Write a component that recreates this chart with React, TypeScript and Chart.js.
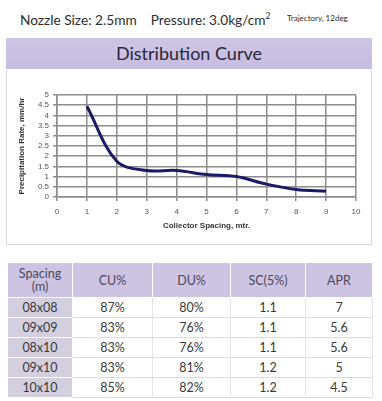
import React, { useEffect, useRef } from "react";
import { Chart, registerables } from "chart.js";

Chart.register(...registerables);

const spacingX = [1, 2, 3, 4, 5, 6, 7, 8, 9];
const precipRate = [4.45, 1.75, 1.3, 1.3, 1.1, 1.0, 0.63, 0.37, 0.28];

const tableHeaders = ["Spacing\n(m)", "CU%", "DU%", "SC(5%)", "APR"];
const spacings = ["08x08", "09x09", "08x10", "09x10", "10x10"];
const cuValues = ["87%", "83%", "83%", "83%", "85%"];
const duValues = ["80%", "76%", "76%", "81%", "82%"];
const scValues = ["1.1", "1.1", "1.1", "1.2", "1.2"];
const aprValues = ["7", "5.6", "5.6", "5", "4.5"];

const FONT = "Lato, 'Open Sans', sans-serif";
const AX_FONT = "Arial, 'Liberation Sans', sans-serif";

function DistributionChart() {
  const ref = useRef<HTMLCanvasElement | null>(null);
  useEffect(() => {
    if (!ref.current) return;
    const chart = new Chart(ref.current, {
      type: "line",
      data: {
        datasets: [
          {
            data: spacingX.map((x, i) => ({ x, y: precipRate[i] })),
            borderColor: "#1c1a66",
            borderWidth: 3,
            pointRadius: 0,
            tension: 0.35,
            fill: false,
          },
        ],
      },
      options: {
        animation: false,
        responsive: false,
        maintainAspectRatio: false,
        layout: { padding: { left: 11, top: 25, right: 16, bottom: 14 } },
        plugins: { legend: { display: false }, tooltip: { enabled: false } },
        scales: {
          x: {
            type: "linear",
            min: 0,
            max: 10,
            afterFit: (s: any) => {
              s.height = 34;
            },
            ticks: {
              stepSize: 1,
              autoSkip: false,
              color: "#555",
              padding: 6,
              font: { family: AX_FONT, size: 8 },
            },
            grid: { color: "#8c8c8c", lineWidth: 1.5, tickLength: 4 },
            border: { color: "#8c8c8c", width: 1.5 },
            title: {
              display: true,
              text: "Collector Spacing, mtr.",
              color: "#333",
              padding: { top: 2, bottom: 0 },
              font: { family: AX_FONT, size: 8, weight: "bold" },
            },
          },
          y: {
            min: 0,
            max: 5,
            afterFit: (s: any) => {
              s.width = 40;
            },
            ticks: {
              stepSize: 0.5,
              autoSkip: false,
              color: "#555",
              padding: 4,
              font: { family: AX_FONT, size: 8 },
              callback: (v: any) => String(Number(v)),
            },
            grid: { color: "#8c8c8c", lineWidth: 1.5, tickLength: 4 },
            border: { color: "#8c8c8c", width: 1.5 },
            title: {
              display: true,
              text: "Precipitation Rate, mm/hr",
              color: "#333",
              padding: { top: 0, bottom: 2 },
              font: { family: AX_FONT, size: 8, weight: "bold" },
            },
          },
        },
      },
    });
    return () => chart.destroy();
  }, []);
  return <canvas ref={ref} width={366} height={175} style={{ display: "block" }} />;
}

export default function App() {
  const cellBase: React.CSSProperties = {
    border: "1.5px solid #ffffff",
    textAlign: "center",
    padding: 0,
    color: "#3a3a3a",
    fontSize: 12.5,
    fontFamily: FONT,
  };
  const rows = spacings.map((s, i) => [s, cuValues[i], duValues[i], scValues[i], aprValues[i]]);
  const colW = [65, 80, 78, 75, 67];
  return (
    <div
      style={{
        position: "fixed",
        left: 0,
        top: 0,
        width: 382,
        height: 401,
        background: "#ffffff",
        fontFamily: FONT,
        overflow: "hidden",
      }}
    >
      <div
        style={{
          position: "absolute",
          left: 20,
          top: 11,
          fontSize: 13.7,
          color: "#2e2e2e",
          whiteSpace: "pre",
        }}
      >
        {"Nozzle Size: 2.5mm    Pressure: 3.0kg/cm"}
        <sup style={{ fontSize: 8.5 }}>2</sup>
      </div>
      <div
        style={{
          position: "absolute",
          left: 287,
          top: 13,
          fontSize: 8,
          color: "#2e2e2e",
          whiteSpace: "pre",
        }}
      >
        {"Trajectory, 12deg"}
      </div>
      <div
        style={{
          position: "absolute",
          left: 6,
          top: 38,
          width: 366,
          height: 31,
          background: "linear-gradient(#cec5e6, #c6bce0)",
          color: "#2a2838",
          fontSize: 18,
          textAlign: "center",
          lineHeight: "31px",
        }}
      >
        Distribution Curve
      </div>
      <div
        style={{
          position: "absolute",
          left: 6,
          top: 70,
          width: 366,
          height: 175,
          borderLeft: "1px solid #d6d6d6",
          borderRight: "1px solid #d6d6d6",
          borderBottom: "1px solid #d6d6d6",
          boxSizing: "border-box",
        }}
      />
      <div style={{ position: "absolute", left: 6, top: 70 }}>
        <DistributionChart />
      </div>
      <table
        style={{
          position: "absolute",
          left: 7,
          top: 262,
          width: 365,
          borderCollapse: "collapse",
          tableLayout: "fixed",
        }}
      >
        <colgroup>
          {colW.map((w, i) => (
            <col key={i} style={{ width: w }} />
          ))}
        </colgroup>
        <thead>
          <tr style={{ height: 35 }}>
            {tableHeaders.map((h, i) => (
              <th
                key={i}
                style={{
                  ...cellBase,
                  background: "#ccc4e2",
                  fontWeight: "normal",
                  color: "#4a4a5a",
                  lineHeight: "13px",
                  whiteSpace: "pre",
                }}
              >
                {h}
              </th>
            ))}
          </tr>
        </thead>
        <tbody>
          {rows.map((r, ri) => (
            <tr key={ri} style={{ height: 20 }}>
              {r.map((v, ci) => (
                <td
                  key={ci}
                  style={{
                    ...cellBase,
                    background: ci === 0 ? "#d3cfdf" : "#ffffff",
                    borderBottom: ci === 0 ? "1.5px solid #ffffff" : "1px solid #dcdcdc",
                    borderRight: ci === 0 ? "1.5px solid #ffffff" : "1px solid #e4e4e4",
                  }}
                >
                  {v}
                </td>
              ))}
            </tr>
          ))}
        </tbody>
      </table>
    </div>
  );
}
